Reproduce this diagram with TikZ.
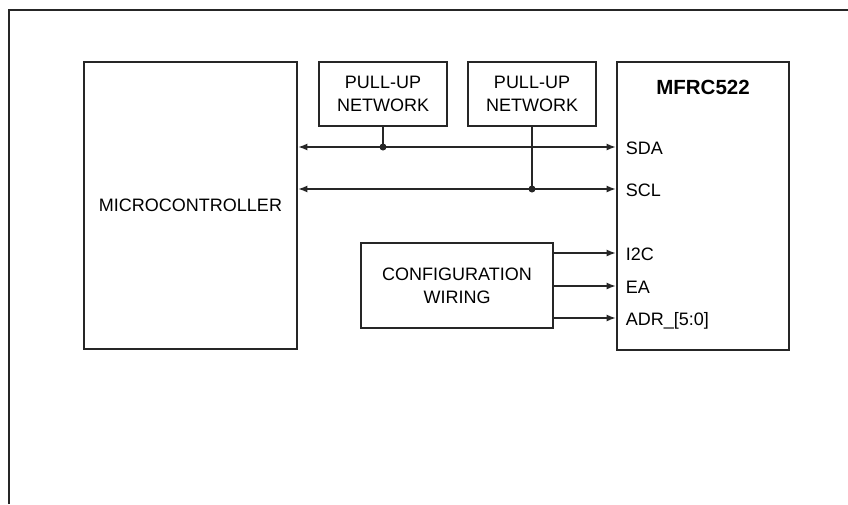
\documentclass[tikz,border=0pt]{standalone}
\usepackage{fontspec}
\setmainfont{Liberation Sans}
\usetikzlibrary{arrows.meta}
\begin{document}
\begin{tikzpicture}[x=1pt,y=-1pt,
  blk/.style={draw=black!85,line width=2.8pt,fill=none,inner sep=0pt,align=center,
    font=\fontsize{18}{23}\selectfont},
  sig/.style={line width=1.3pt,draw=black!85},
  tip/.style={-{Latex[length=9pt,width=7pt]}},
  lbl/.style={anchor=base west,inner sep=0pt,font=\fontsize{18}{20}\selectfont},
  jdot/.style={circle,fill=black!85,inner sep=0pt,minimum size=7pt}]
\useasboundingbox (0,0) rectangle (848,504);
\fill[white] (0,0) rectangle (848,504);
% outer frame (left and top edges)
\coordinate (frtl) at (9,10);
\coordinate (frtr) at (848,10);
\coordinate (frbl) at (9,504);
\draw[line width=2.4pt,draw=black!85] (frbl) -- (frtl) -- (frtr);
% blocks
\node[blk,minimum width=213pt,minimum height=287pt] (mc) at (190.5,205.5) {MICROCONTROLLER};
\node[blk,minimum width=128pt,minimum height=64pt] (pu1) at (383,94) {PULL-UP\\NETWORK};
\node[blk,minimum width=128pt,minimum height=64pt] (pu2) at (532,94) {PULL-UP\\NETWORK};
\node[blk,minimum width=172pt,minimum height=288pt] (ic) at (703,206) {};
\node[inner sep=0pt,font=\fontsize{20.5}{22}\selectfont\bfseries] (ictitle) at (703,87) {MFRC522};
\node[blk,minimum width=192pt,minimum height=85pt] (cfg) at (457,285.5) {CONFIGURATION\\WIRING};
% signal rows
\coordinate (ysda) at (0,147);
\coordinate (yscl) at (0,189);
\coordinate (yi2c) at (0,253);
\coordinate (yea) at (0,286);
\coordinate (yadr) at (0,318);
% bus lines
\draw[sig,{Latex[length=9pt,width=7pt]}-{Latex[length=9pt,width=7pt]}] (mc.east |- ysda) -- (ic.west |- ysda);
\draw[sig,{Latex[length=9pt,width=7pt]}-{Latex[length=9pt,width=7pt]}] (mc.east |- yscl) -- (ic.west |- yscl);
% pull-up taps
\node[jdot] (d1) at (pu1.south |- ysda) {};
\node[jdot] (d2) at (pu2.south |- yscl) {};
\draw[sig] (pu1.south) -- (d1.center);
\draw[sig] (pu2.south) -- (d2.center);
% configuration lines
\draw[sig,tip] (cfg.east |- yi2c) -- (ic.west |- yi2c);
\draw[sig,tip] (cfg.east |- yea) -- (ic.west |- yea);
\draw[sig,tip] (cfg.east |- yadr) -- (ic.west |- yadr);
% pin labels
\node[lbl] (lsda) at ([xshift=10pt,yshift=-7pt]ic.west |- ysda) {SDA};
\node[lbl] (lscl) at ([xshift=10pt,yshift=-7pt]ic.west |- yscl) {SCL};
\node[lbl] (li2c) at ([xshift=10pt,yshift=-7pt]ic.west |- yi2c) {I2C};
\node[lbl] (lea) at ([xshift=10pt,yshift=-7pt]ic.west |- yea) {EA};
\node[lbl] (ladr) at ([xshift=10pt,yshift=-7pt]ic.west |- yadr) {ADR\_[5:0]};
\end{tikzpicture}
\end{document}
